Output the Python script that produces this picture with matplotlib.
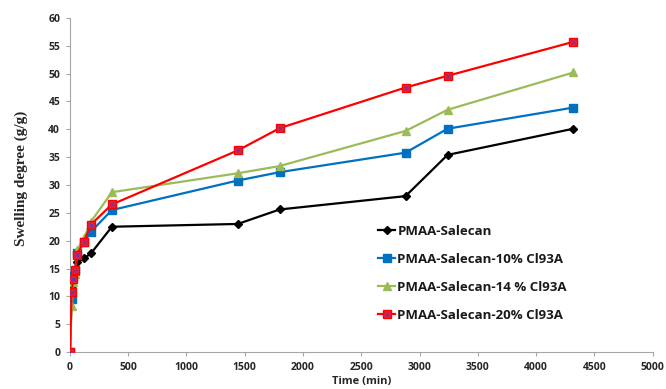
import matplotlib
matplotlib.use("Agg")
import matplotlib.pyplot as plt
from matplotlib.legend_handler import HandlerTuple
from matplotlib.lines import Line2D

time_min = [0, 15, 30, 45, 60, 120, 180, 360, 1440, 1800, 2880, 3240, 4320]
pmaa_salecan = [0, 11.8, 13.0, 14.5, 16.2, 16.8, 17.7, 22.5, 23.0, 25.6, 28.0, 35.4, 40.1]
cl93a_10 = [0, 9.6, 13.7, 14.5, 17.8, 19.8, 21.6, 25.5, 30.8, 32.3, 35.8, 40.1, 43.9]
cl93a_14 = [0, 8.2, 12.6, 14.0, 18.3, 20.5, 23.4, 28.7, 32.1, 33.4, 39.7, 43.5, 50.2]
cl93a_20 = [0, 10.8, 13.1, 14.7, 17.5, 19.8, 22.9, 26.5, 36.2, 40.2, 47.5, 49.6, 55.7]

series_labels = ["PMAA-Salecan", "PMAA-Salecan-10% Cl93A",
                 "PMAA-Salecan-14 % Cl93A", "PMAA-Salecan-20% Cl93A"]
x_ticks = [0, 500, 1000, 1500, 2000, 2500, 3000, 3500, 4000, 4500, 5000]
y_ticks = [0, 5, 10, 15, 20, 25, 30, 35, 40, 45, 50, 55, 60]

fig = plt.figure(figsize=(6.66, 3.89), dpi=100)
ax = fig.add_axes([0.105, 0.095, 0.875, 0.859])

lw = 1.6
h_black, = ax.plot(time_min, pmaa_salecan, color="black", lw=lw, marker="D",
                   ms=3.8, zorder=3)
h_blue, = ax.plot(time_min, cl93a_10, color="#0070C0", lw=lw, marker="s",
                  ms=5.5, zorder=4)
h_green, = ax.plot(time_min, cl93a_14, color="#9BBB59", lw=lw, marker="^",
                   ms=6, zorder=5)
h_red, = ax.plot(time_min, cl93a_20, color="#FF0000", lw=lw, marker="s",
                 ms=5.5, markerfacecolor="#E8203A", markeredgecolor="#FF0000",
                 zorder=6)
h_redx, = ax.plot(time_min, cl93a_20, ls="none", marker="x", ms=3.5,
                  mew=0.7, color="#7030A0", zorder=7)

ax.set_xlim(0, 5000)
ax.set_ylim(0, 60)
ax.set_xticks(x_ticks)
ax.set_yticks(y_ticks)

for side in ("top", "right"):
    ax.spines[side].set_visible(False)
for side in ("left", "bottom"):
    ax.spines[side].set_color("#A6A6A6")
    ax.spines[side].set_linewidth(0.8)

ax.tick_params(axis="both", direction="out", length=3, width=0.8,
               color="#A6A6A6", labelsize=7.5, pad=4)
for lab in ax.get_xticklabels() + ax.get_yticklabels():
    lab.set_fontfamily("Open Sans")
    lab.set_fontweight("bold")
    lab.set_color("#262626")

ax.set_xlabel("Time (min)", fontfamily="Open Sans", fontweight="bold",
              fontsize=8, color="#262626", labelpad=2)
ax.set_ylabel("Swelling degree (g/g)", fontfamily="Liberation Serif",
              fontweight="bold", fontsize=11, color="#262626", labelpad=14)
ax.yaxis.set_label_coords(-0.072, 0.52)

red_handle = (Line2D([], [], color="#FF0000", lw=lw, marker="s", ms=5.5,
                     markerfacecolor="#E8203A", markeredgecolor="#FF0000"),
              Line2D([], [], ls="none", marker="x", ms=3.5, mew=0.7,
                     color="#7030A0"))
leg = ax.legend([h_black, h_blue, h_green, red_handle], series_labels,
                handler_map={tuple: HandlerTuple(ndivide=1, pad=0)},
                loc="upper left", bbox_to_anchor=(0.52, 0.396),
                frameon=False, handlelength=1.3, handletextpad=0.15,
                labelspacing=1.13, borderaxespad=0,
                prop={"family": "Open Sans", "weight": "bold", "size": 9.5})
for t in leg.get_texts():
    t.set_color("#1a1a1a")

fig.savefig("out.png", dpi=100)
